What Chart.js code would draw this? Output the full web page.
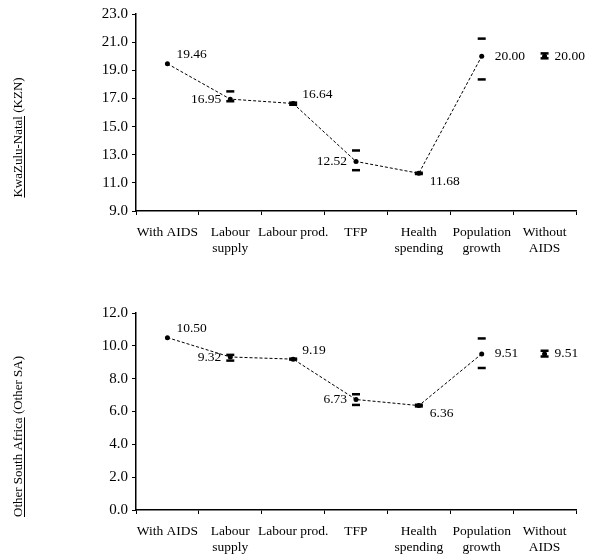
<!DOCTYPE html>
<html>
<head>
<meta charset="utf-8">
<script src="https://cdn.jsdelivr.net/npm/chart.js@4"></script>
<style>
  html, body { margin: 0; padding: 0; background: #fff; }
  #wrap { position: relative; width: 600px; height: 560px; }
  .box { position: absolute; left: 0; width: 600px; height: 280px; }
</style>
</head>
<body>
<div id="wrap">
  <div class="box" style="top:0"><canvas id="kzn"></canvas></div>
  <div class="box" style="top:280px"><canvas id="osa"></canvas></div>
</div>
<script>
// Categorias (eixo x)
const categorias = [['With AIDS'], ['Labour', 'supply'], ['Labour prod.'], ['TFP'],
  ['Health', 'spending'], ['Population', 'growth'], ['Without', 'AIDS']];

// KwaZulu-Natal
const kznValores = [19.46, 16.95, 16.64, 12.52, 11.68, 20.00, 20.00];
const kznBaixo = [null, 16.8, 16.55, 11.9, 11.63, 18.35, 19.85];
const kznAlto = [null, 17.5, 16.7, 13.3, 11.72, 21.25, 20.2];
const kznTicks = [9, 23, 2];

// Other South Africa
const osaValores = [10.50, 9.32, 9.19, 6.73, 6.36, 9.51, 9.51];
const osaBaixo = [null, 9.1, 9.16, 6.4, 6.31, 8.65, 9.35];
const osaAlto = [null, 9.45, 9.22, 7.05, 6.41, 10.45, 9.7];
const osaTicks = [0, 12, 2];

Chart.defaults.font.family = "'Liberation Serif', 'Times New Roman', serif";
Chart.defaults.font.size = 13;
Chart.defaults.color = '#000';

// posição dos rótulos de valor (ne, w, se, e)
const posicoes = ['ne', 'w', 'ne', 'w', 'se', 'e', 'e'];

// Plugin: barras de erro (só os traços)
const pluginErro = {
  id: 'barrasErro',
  afterDatasetsDraw(chart, args, opts) {
    const ctx = chart.ctx;
    const x = chart.scales.x, y = chart.scales.y;
    ctx.save();
    ctx.strokeStyle = '#000';
    ctx.lineWidth = 2.5;
    opts.baixo.forEach((b, i) => {
      if (b === null) return;
      const px = x.getPixelForValue(i);
      [b, opts.alto[i]].forEach(v => {
        const py = y.getPixelForValue(v);
        ctx.beginPath();
        ctx.moveTo(px - 4, py);
        ctx.lineTo(px + 4, py);
        ctx.stroke();
      });
    });
    ctx.restore();
  }
};

// Plugin: rótulos de valor
const pluginRotulos = {
  id: 'rotulos',
  afterDatasetsDraw(chart, args, opts) {
    const ctx = chart.ctx;
    const x = chart.scales.x, y = chart.scales.y;
    ctx.save();
    ctx.font = "13.5px 'Liberation Serif'";
    ctx.fillStyle = '#000';
    ctx.textBaseline = 'middle';
    opts.valores.forEach((v, i) => {
      const px = x.getPixelForValue(i), py = y.getPixelForValue(v);
      const p = posicoes[i];
      let dx = 12, dy = 0;
      ctx.textAlign = 'left';
      if (p === 'ne') { dx = 9; dy = -9; }
      if (p === 'se') { dx = 11; dy = 8; }
      if (p === 'w') { dx = -9; ctx.textAlign = 'right'; }
      if (p === 'e' && i === 6) dx = 10;
      if (p === 'e' && i === 5) dx = 13;
      ctx.fillText(v.toFixed(2), px + dx, py + dy);
    });
    ctx.restore();
  }
};

// Plugin: título do eixo y com sublinhado
const pluginTitulo = {
  id: 'tituloY',
  afterDraw(chart, args, opts) {
    const ctx = chart.ctx;
    const a = chart.chartArea;
    ctx.save();
    ctx.font = "13px 'Liberation Serif'";
    ctx.fillStyle = '#000';
    ctx.strokeStyle = '#000';
    ctx.lineWidth = 1;
    ctx.translate(22, (a.top + a.bottom) / 2 + 25);
    ctx.rotate(-Math.PI / 2);
    const w1 = ctx.measureText(opts.sublinhado).width;
    const total = ctx.measureText(opts.sublinhado + opts.resto).width;
    ctx.textBaseline = 'alphabetic';
    ctx.textAlign = 'left';
    ctx.fillText(opts.sublinhado + opts.resto, -total / 2, 0);
    ctx.beginPath();
    ctx.moveTo(-total / 2, 2.5);
    ctx.lineTo(-total / 2 + w1, 2.5);
    ctx.stroke();
    ctx.restore();
  }
};

function criarGrafico(id, valores, baixo, alto, ticks, titulo, topo, alturaX) {
  const linha = valores.map((v, i) => i < 6 ? v : null);
  const semAids = valores.map((v, i) => i === 6 ? v : null);
  return new Chart(document.getElementById(id), {
    type: 'line',
    data: {
      labels: categorias,
      datasets: [{
        data: linha,
        borderColor: '#000',
        borderWidth: 1,
        borderDash: [3, 2],
        pointRadius: 2.5,
        pointBackgroundColor: '#000',
        pointBorderWidth: 0,
        tension: 0
      }, {
        data: semAids,
        showLine: false,
        pointRadius: 2.5,
        pointBackgroundColor: '#000',
        pointBorderWidth: 0
      }]
    },
    options: {
      responsive: false,
      animation: false,
      layout: { padding: { top: topo, right: 24, left: 0, bottom: 0 } },
      plugins: {
        legend: { display: false },
        tooltip: { enabled: false },
        barrasErro: { baixo: baixo, alto: alto },
        rotulos: { valores: valores },
        tituloY: titulo
      },
      scales: {
        x: {
          offset: true,
          grid: { offset: true, drawOnChartArea: false, tickLength: 4, color: '#000' },
          border: { color: '#000', width: 1.5 },
          ticks: { padding: 9, maxRotation: 0, autoSkip: false, font: { size: 13.5, lineHeight: 1.2 } },
          afterFit(s) { s.height = alturaX; }
        },
        y: {
          min: ticks[0], max: ticks[1],
          grid: { drawOnChartArea: false, tickLength: 4, color: '#000' },
          border: { color: '#000', width: 1.5 },
          ticks: { stepSize: ticks[2], padding: 4, font: { size: 15 }, callback: v => v.toFixed(1) },
          afterFit(s) { s.width = 136; }
        }
      }
    },
    plugins: [pluginErro, pluginRotulos, pluginTitulo]
  });
}

const c1 = document.getElementById('kzn'); c1.width = 600; c1.height = 280;
const c2 = document.getElementById('osa'); c2.width = 600; c2.height = 280;

criarGrafico('kzn', kznValores, kznBaixo, kznAlto, kznTicks,
  { sublinhado: 'KwaZulu-Natal', resto: ' (KZN)' }, 14, 69);
criarGrafico('osa', osaValores, osaBaixo, osaAlto, osaTicks,
  { sublinhado: 'Other South Africa', resto: ' (Other SA)' }, 33, 50);
</script>
</body>
</html>
